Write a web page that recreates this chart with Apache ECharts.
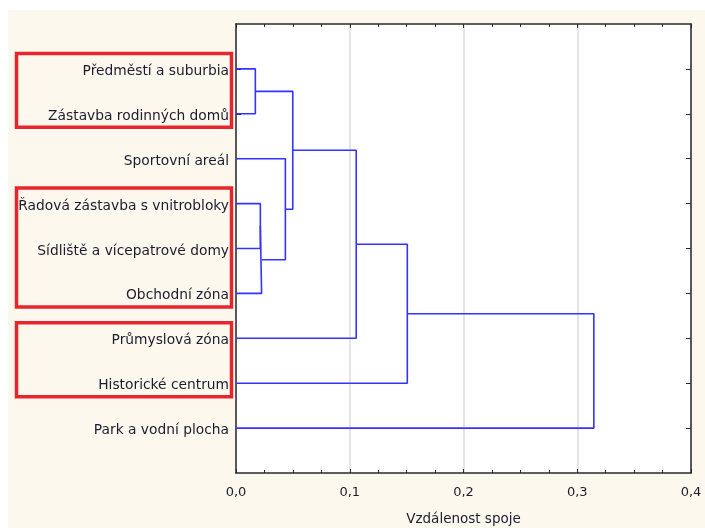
<!DOCTYPE html>
<html>
<head>
<meta charset="utf-8">
<script src="https://cdn.jsdelivr.net/npm/echarts@6/dist/echarts.min.js"></script>
<style>
  html, body { margin: 0; padding: 0; background: #ffffff; }
  #chart { width: 705px; height: 528px; }
</style>
</head>
<body>
<div id="chart"></div>
<script>
// Leaf labels, top to bottom
var leaves = [
  'Předměstí a suburbia',
  'Zástavba rodinných domů',
  'Sportovní areál',
  'Řadová zástavba s vnitrobloky',
  'Sídliště a vícepatrové domy',
  'Obchodní zóna',
  'Průmyslová zóna',
  'Historické centrum',
  'Park a vodní plocha'
];

// Merge steps: left member, right member, linkage distance.
// Members 0..8 are leaves, 9+ are clusters formed by earlier steps.
var mergeA = [0, 3, 10, 2, 9, 13, 14, 15];
var mergeB = [1, 4, 5, 11, 12, 6, 7, 8];
var mergeDist = [0.017, 0.0214, 0.0225, 0.0434, 0.0499, 0.1057, 0.1506, 0.3146];

// Groups of rows framed in red (first row, last row; 1-based)
var boxFirst = [1, 4, 7];
var boxLast = [2, 6, 8];

var xTicks = [0, 0.1, 0.2, 0.3, 0.4];

var LINK = '#3333ff';
var AXIS = '#2a2a2a';
var TEXT = '#1c1c2e';
var PANEL = '#fdf8ee';
var FONT = 'DejaVu Sans';

var W = 705, H = 528;
var GRID = { left: 236, right: 14, top: 24, bottom: 55 };
var ROWS = leaves.length + 1;

// Position (row) and height of every node
var nodeY = leaves.map(function (_, i) { return i + 1; });
var nodeH = leaves.map(function () { return 0; });
var series = [];
for (var k = 0; k < mergeDist.length; k++) {
  var a = mergeA[k], b = mergeB[k], h = mergeDist[k];
  series.push({
    type: 'line',
    symbol: 'none',
    silent: true,
    animation: false,
    lineStyle: { color: LINK, width: 1.6 },
    data: [[nodeH[a], nodeY[a]], [h, nodeY[a]], [h, nodeY[b]], [nodeH[b], nodeY[b]]]
  });
  nodeY.push((nodeY[a] + nodeY[b]) / 2);
  nodeH.push(h);
}

var rowTicks = leaves.map(function (_, i) { return i + 1; });

function yAxisDef(pos, withLabels) {
  return {
    type: 'value', min: 0, max: ROWS, interval: 1, inverse: true, position: pos,
    axisLine: { show: true, onZero: false, lineStyle: { color: AXIS, width: 1.5 } },
    axisTick: { show: true, inside: true, length: 5, customValues: rowTicks, lineStyle: { color: AXIS } },
    splitLine: { show: false },
    axisLabel: withLabels ? {
      margin: 7, color: TEXT, fontFamily: FONT, fontSize: 13.8,
      customValues: rowTicks,
      formatter: function (v) { return '{n|' + (leaves[Math.round(v) - 1] || '') + '}'; },
      rich: { n: { color: TEXT, fontFamily: FONT, fontSize: 13.8, padding: [5, 0, 0, 0] } }
    } : { show: false }
  };
}

function xAxisDef(pos, withLabels) {
  var ax = {
    type: 'value', min: xTicks[0], max: xTicks[xTicks.length - 1], interval: 0.1, position: pos,
    axisLine: { show: true, onZero: false, lineStyle: { color: AXIS, width: 1.5 } },
    axisTick: { show: true, inside: true, length: 4, lineStyle: { color: AXIS } },
    minorTick: { show: true, splitNumber: 4, length: 3, lineStyle: { color: AXIS } },
    splitLine: { show: withLabels, lineStyle: { color: '#dcdcdc', width: 1.5 } },
    axisLabel: { show: false }
  };
  if (withLabels) {
    ax.axisLabel = {
      margin: 13, color: TEXT, fontFamily: FONT, fontSize: 13,
      formatter: function (v) { return v.toFixed(1).replace('.', ','); }
    };
    ax.name = 'Vzdálenost spoje';
    ax.nameLocation = 'middle';
    ax.nameGap = 39;
    ax.nameTextStyle = { color: TEXT, fontFamily: FONT, fontSize: 13.5 };
  }
  return ax;
}

// Cream panel behind everything, leaving a thin white margin on the left and top
var graphics = [{
  type: 'rect', silent: true, z: -10,
  shape: { x: 8, y: 10, width: W - 8, height: H - 10 },
  style: { fill: PANEL }
}];

// Red frames around selected groups of rows
function rowPx(v) { return GRID.top + v * (H - GRID.top - GRID.bottom) / ROWS; }
for (var g = 0; g < boxFirst.length; g++) {
  var frameTop = rowPx(boxFirst[g]) - 15.5;
  var frameBottom = rowPx(boxLast[g]) + 13.5;
  graphics.push({
    type: 'rect', silent: true, z: 100,
    shape: { x: 16.5, y: frameTop, width: 215, height: frameBottom - frameTop },
    style: { fill: null, stroke: '#e8242c', lineWidth: 3.5 }
  });
}

var chart = echarts.init(document.getElementById('chart'));
chart.setOption({
  backgroundColor: '#ffffff',
  animation: false,
  grid: { left: GRID.left, right: GRID.right, top: GRID.top, bottom: GRID.bottom,
          outerBoundsMode: 'none', containLabel: false,
          show: true, backgroundColor: '#ffffff', borderWidth: 0 },
  xAxis: [xAxisDef('bottom', true), xAxisDef('top', false)],
  yAxis: [yAxisDef('left', true), yAxisDef('right', false)],
  series: series,
  graphic: graphics
});
</script>
</body>
</html>
